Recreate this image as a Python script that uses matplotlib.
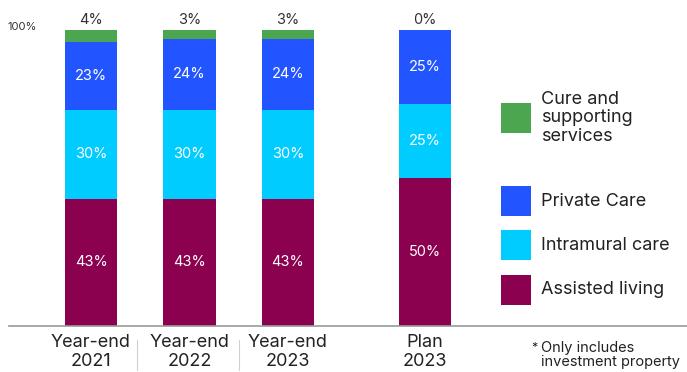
import matplotlib
matplotlib.use('Agg')
import matplotlib.pyplot as plt
from matplotlib.patches import Rectangle
from matplotlib.lines import Line2D
import numpy as np

# data
categories = ['Year-end\n2021', 'Year-end\n2022', 'Year-end\n2023', 'Plan\n2023']
assisted = [43, 43, 43, 50]
intramural = [30, 30, 30, 25]
private = [23, 24, 24, 25]
cure = [4, 3, 3, 0]

series_names = ['Assisted living', 'Intramural care', 'Private Care', 'Cure and\nsupporting\nservices']
colors = ['#8C0050', '#00CCFF', '#2255FF', '#4CA64F']

plt.rcParams['font.family'] = ['Inter', 'DejaVu Sans']

W, H = 687, 372
fig = plt.figure(figsize=(W / 100, H / 100), dpi=100)

# axes from x=9px to right edge, bar baseline at y=326px
ax = fig.add_axes([9 / W, (H - 326) / H, 1 - 9 / W, 326 / H])
x = np.array([0, 1, 2, 3.39])
px_per_unit = 98.5
ax.set_xlim(-82 / px_per_unit, (W - 91) / px_per_unit)
px_per_pct = 296 / 100
ax.set_ylim(0, 326 / px_per_pct)

bottom = np.zeros(len(x))
for vals, col in zip([assisted, intramural, private, cure], colors):
    vals = np.array(vals, dtype=float)
    ax.bar(x, vals, bottom=bottom, width=0.53, color=col, edgecolor='none')
    if col != colors[-1]:
        for xi, b, v in zip(x, bottom, vals):
            ax.text(xi, b + v / 2, f'{int(v)}%', ha='center', va='center',
                    color='white', fontsize=10.5)
    bottom += vals

for xi, tot, c in zip(x, bottom, cure):
    ax.annotate(f'{c}%', (xi, tot), xytext=(0, 2), textcoords='offset points',
                ha='center', va='bottom', fontsize=10.5, color='#333333')

for s in ['top', 'right', 'left']:
    ax.spines[s].set_visible(False)
ax.spines['bottom'].set_color('#999999')
ax.spines['bottom'].set_linewidth(1.2)
ax.set_yticks([])
ax.set_xticks(x)
ax.set_xticklabels(categories, fontsize=13, linespacing=1.1, color='#222222')
ax.tick_params(axis='x', length=0, pad=6)

# 100% marker
fig.text(8 / W, 1 - 27 / H, '100%', fontsize=8, color='#333333', va='center', ha='left')

# thin separators between the year-end labels
for sx in [137, 239]:
    fig.add_artist(Line2D([sx / W, sx / W], [1 - 340 / H, 1 - 370 / H],
                          color='#d0d0d0', linewidth=0.8))

# legend drawn by hand
leg_y = [290, 245, 201, 118]
for name, col, yc in zip(series_names, colors, leg_y):
    fig.add_artist(Rectangle((501 / W, 1 - (yc + 15) / H), 30 / W, 30 / H,
                             facecolor=col, edgecolor='none', transform=fig.transFigure))
    fig.text(541 / W, 1 - yc / H, name, fontsize=13, color='#222222',
             va='center', ha='left', linespacing=1.15)

fig.text(531 / W, 1 - 348 / H, '*', fontsize=9, color='#222222', va='center', ha='left')
fig.text(541 / W, 1 - 355 / H, 'Only includes\ninvestment property', fontsize=10.5,
         color='#222222', va='center', ha='left', linespacing=0.95)

fig.savefig('out.png', dpi=100)
